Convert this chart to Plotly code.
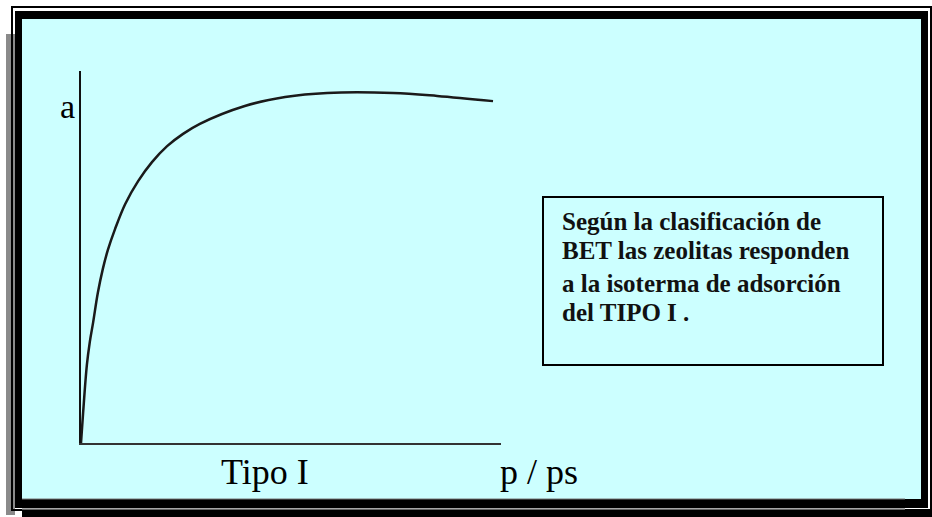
import plotly.graph_objects as go

# ---- data ----
p_ps = [0.0, 0.005, 0.014, 0.021, 0.029, 0.040, 0.052, 0.064, 0.081, 0.105,
        0.136, 0.169, 0.205, 0.243, 0.283, 0.390, 0.486, 0.586, 0.743, 0.848, 0.981]
a_vals = [0.0, 0.081, 0.210, 0.272, 0.325, 0.403, 0.468, 0.519, 0.575, 0.642,
          0.704, 0.755, 0.798, 0.831, 0.858, 0.906, 0.930, 0.941, 0.941, 0.933, 0.919]

y_label = "a"
x_label = "p / ps"
chart_title = "Tipo I"
note_lines = ["Según la clasificación de",
              "BET las zeolitas responden",
              "a la isoterma de adsorción",
              "del TIPO I ."]
note_baselines_px = [229, 258, 291, 320]

W, H = 932, 517
CYAN = "#CCFFFF"
SERIF = "Liberation Serif, Times New Roman, serif"


def X(px):
    return px / W


def Y(py):
    return 1 - py / H


def rect(x0, y0, x1, y1, fill=None, line_color=None, lw=0):
    d = dict(type="rect", xref="paper", yref="paper",
             x0=X(x0), x1=X(x1), y0=Y(y1), y1=Y(y0), layer="below")
    d["fillcolor"] = fill if fill else "rgba(0,0,0,0)"
    d["line"] = dict(color=line_color if line_color else "rgba(0,0,0,0)", width=lw)
    return d


def hline(x0, x1, y, color, lw):
    return dict(type="line", xref="paper", yref="paper", x0=X(x0), x1=X(x1),
                y0=Y(y), y1=Y(y), line=dict(color=color, width=lw), layer="below")


shapes = [
    rect(6, 34, 15, 515, fill="#8a8a8a"),               # left shadow
    rect(12, 7, 931, 510, line_color="black", lw=2),    # outer thin line
    rect(15, 11, 928, 508, fill="black"),               # thick frame
    rect(22, 19, 921, 499, fill=CYAN),                  # panel
    hline(22, 905, 499, "#777777", 1),
    hline(22, 905, 509, "#888888", 1.5),
    rect(22, 510, 932, 517, fill="black"),              # bottom strip
    rect(543, 197, 883, 365, fill=CYAN, line_color="black", lw=2),  # note box
]

fig = go.Figure()
fig.add_trace(go.Scatter(x=p_ps, y=a_vals, mode="lines",
                         line=dict(color="#1a1a1a", width=2.5, shape="spline", smoothing=1.0),
                         hoverinfo="skip", showlegend=False))

axis_common = dict(showgrid=False, zeroline=False, showticklabels=False,
                   ticks="", showline=True, linewidth=2, range=[0, 1], fixedrange=True)

annotations = [
    dict(text=y_label, xref="paper", yref="paper", x=X(67), y=Y(106),
         xanchor="center", yanchor="middle", showarrow=False,
         font=dict(family=SERIF, size=34, color="black")),
    dict(text=chart_title, xref="paper", yref="paper", x=X(265), y=Y(472),
         xanchor="center", yanchor="middle", showarrow=False,
         font=dict(family=SERIF, size=36, color="black")),
    dict(text=x_label, xref="paper", yref="paper", x=X(539), y=Y(472),
         xanchor="center", yanchor="middle", showarrow=False,
         font=dict(family=SERIF, size=36, color="black")),
]
NOTE_SIZE = 25
for line, base in zip(note_lines, note_baselines_px):
    annotations.append(dict(
        text=line, xref="paper", yref="paper", x=X(561), y=Y(base - 8),
        xanchor="left", yanchor="middle", align="left", showarrow=False, borderpad=0,
        font=dict(family=SERIF, size=NOTE_SIZE, color="#111111", weight="bold")))

fig.update_layout(
    width=W, height=H,
    margin=dict(l=0, r=0, t=0, b=0),
    paper_bgcolor="white",
    plot_bgcolor="rgba(0,0,0,0)",
    xaxis=dict(domain=[X(81), X(501)], linecolor="#333333", **axis_common),
    yaxis=dict(domain=[Y(443), Y(71)], linecolor="#111111", **axis_common),
    shapes=shapes,
    annotations=annotations,
)

fig.write_html("out.html", config={"displayModeBar": False},
               post_script="document.body.style.margin='0';document.body.style.overflow='hidden';")
